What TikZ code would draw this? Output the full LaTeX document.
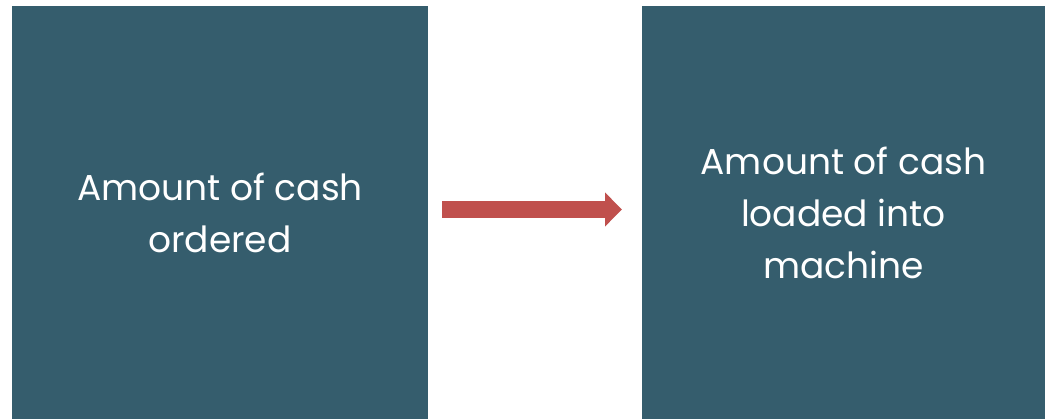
\documentclass[tikz,border=0pt]{standalone}
\usepackage{fontspec}
\setmainfont{Poppins}
\usetikzlibrary{arrows.meta}
\definecolor{boxteal}{HTML}{355D6D}
\definecolor{arrowred}{HTML}{C0504D}
\begin{document}
\begin{tikzpicture}[
    x=1pt, y=-1pt,
    box/.style={fill=boxteal, draw=none, text=white, align=center,
        minimum width=#1, minimum height=413pt, inner sep=0pt,
        font=\fontsize{36}{52}\selectfont}
]
\useasboundingbox (0,0) rectangle (1045,419);

% Boxes
\node[box=416pt] (ordered) at (220,212.5) {Amount of cash\\ordered};
\node[box=403pt] (loaded) at (843.5,212.5) {Amount of cash\\loaded into\\machine};

% Arrow
\coordinate (tail) at (442,209.5);
\coordinate (tip) at (622,209.5);
\draw[arrowred, line width=17pt, -{Triangle[length=17pt,width=33pt]}] (tail) -- (tip);
\end{tikzpicture}
\end{document}
